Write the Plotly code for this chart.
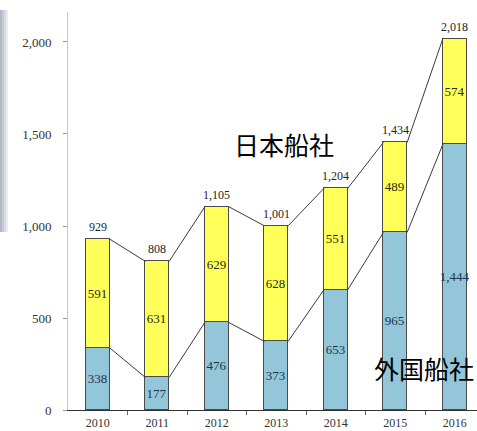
import plotly.graph_objects as go

years = ["2010", "2011", "2012", "2013", "2014", "2015", "2016"]
foreign = [338, 177, 476, 373, 653, 965, 1444]
japan = [591, 631, 629, 628, 551, 489, 574]
total_labels = [929, 808, 1105, 1001, 1204, 1434, 2018]  # as printed in the chart

BW = 0.4
xs = list(range(len(years)))
stack_tops = [f + j for f, j in zip(foreign, japan)]
SERIF = "Liberation Serif, Times New Roman, serif"

fig = go.Figure()

fig.add_trace(go.Bar(
    x=xs, y=foreign, width=BW, marker=dict(color="#93c6d8", line=dict(color="#4a4a4a", width=1)),
    text=[f"{v:,}" for v in foreign], textposition="inside", insidetextanchor="middle",
    textangle=0, constraintext="none",
    textfont=dict(family=SERIF, size=13, color="#1c3450"), showlegend=False, hoverinfo="skip"))
fig.add_trace(go.Bar(
    x=xs, y=japan, width=BW, marker=dict(color="#ffff5a", line=dict(color="#4a4a4a", width=1)),
    text=[f"{v:,}" for v in japan], textposition="inside", insidetextanchor="middle",
    textangle=0, constraintext="none",
    textfont=dict(family=SERIF, size=13, color="#2a2a10"), showlegend=False, hoverinfo="skip"))

# connecting lines
def seg(vals):
    lx, ly = [], []
    for i in range(len(vals) - 1):
        lx += [i + BW / 2, i + 1 - BW / 2, None]
        ly += [vals[i], vals[i + 1], None]
    return lx, ly

for vals in (foreign, stack_tops):
    lx, ly = seg(vals)
    fig.add_trace(go.Scatter(x=lx, y=ly, mode="lines", line=dict(color="#3a3a3a", width=1),
                             showlegend=False, hoverinfo="skip"))

for x, top, lab in zip(xs, stack_tops, total_labels):
    fig.add_annotation(x=x, y=top, text=f"{lab:,}", showarrow=False, xanchor="center",
                       yanchor="bottom", yshift=3,
                       font=dict(family=SERIF, size=12, color="#222"))

W, H = 477, 431
L, R, T, B = 68, 0, 12, 21
pw, ph = W - L - R, H - T - B

def px(x):
    return (x - L) / pw

def py(y):
    return (H - B - y) / ph

fig.add_annotation(x=px(284), y=py(144), xref="paper", yref="paper", text="日本船社", showarrow=False,
                   xanchor="center", yanchor="middle",
                   font=dict(family="Noto Sans CJK JP", size=25, color="#000"))
fig.add_annotation(x=px(424), y=py(368), xref="paper", yref="paper", text="外国船社", showarrow=False,
                   xanchor="center", yanchor="middle",
                   font=dict(family="Noto Sans CJK JP", size=25, color="#000"))

# left gray strip artifact
for i, c in enumerate(["#b3bac7", "#c4cad4", "#d6dae1", "#e8ebef"]):
    fig.add_shape(type="rect", xref="paper", yref="paper",
                  x0=px(i * 2), x1=px((i + 1) * 2), y0=py(232), y1=py(10),
                  fillcolor=c, line=dict(width=0), layer="below")

fig.update_layout(
    width=W, height=H, margin=dict(l=L, r=R, t=T, b=B, autoexpand=False),
    paper_bgcolor="white", plot_bgcolor="white", barmode="stack", bargap=0,
    xaxis=dict(range=[-0.5, -0.5 + pw / 59.5], tickmode="array", tickvals=xs, ticktext=years,
               ticks="", showgrid=False, zeroline=False, showline=True, linecolor="#333", linewidth=1,
               ticklabelstandoff=2, automargin=False,
               tickfont=dict(family=SERIF, size=12, color="#333"),
               minor=dict(tickmode="array", tickvals=[i + 0.5 for i in xs[:-1]], ticks="outside",
                          ticklen=4, tickcolor="#666", showgrid=False)),
    yaxis=dict(range=[0, 2163], tickmode="array", tickvals=[0, 500, 1000, 1500, 2000],
               tickformat=",", ticks="outside", ticklen=4, tickcolor="#999", showgrid=False,
               zeroline=False, showline=True, linecolor="#c8c8c8", linewidth=1,
               ticklabelstandoff=9, automargin=False,
               tickfont=dict(family=SERIF, size=13, color="#333")),
)

fig.write_html("out.html")
